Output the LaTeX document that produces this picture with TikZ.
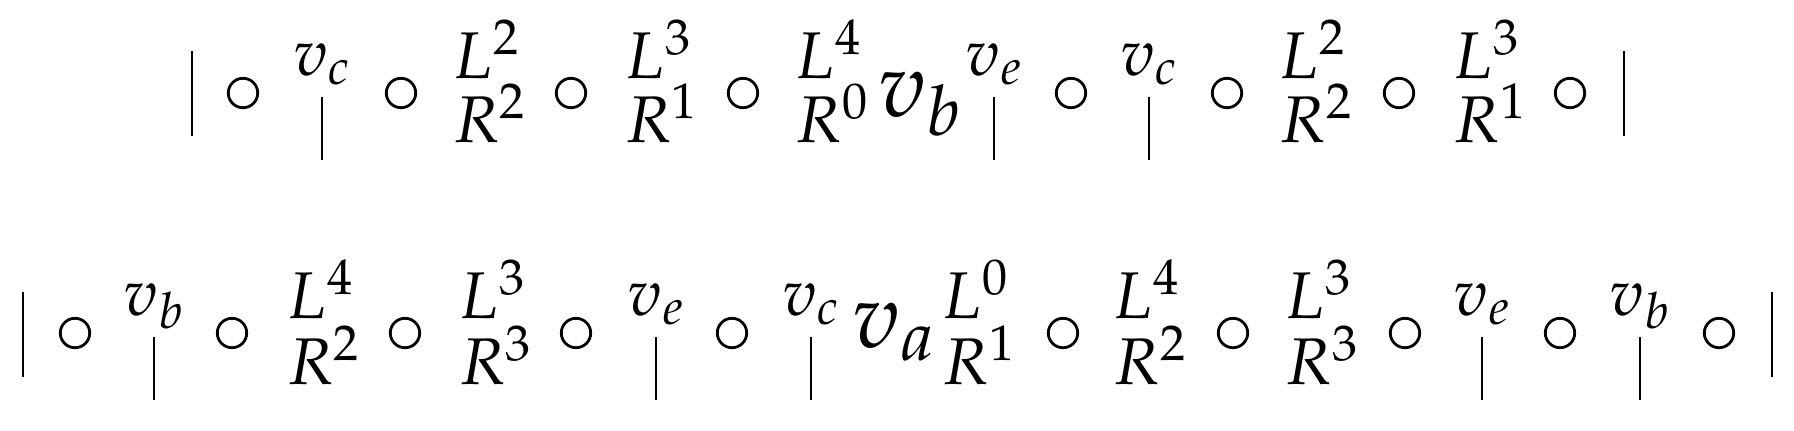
\documentclass[tikz,border=0pt]{standalone}
\usepackage{mathpazo}
\begin{document}
\begin{tikzpicture}[x=0.5pt,y=-0.5pt,
  txt/.style={inner sep=0pt,outer sep=0pt,font=\fontsize{33}{40}\selectfont},
  bigtxt/.style={inner sep=0pt,outer sep=0pt,font=\fontsize{46}{55}\selectfont},
  ring/.style={circle,draw,line width=1.4pt,minimum size=14.7pt,inner sep=0pt},
  barline/.style={line width=1.4pt}]
\useasboundingbox (0,0) rectangle (1794,430);
% ---------- row 1 ----------
\draw[barline] (192,51) coordinate (b1a) -- (192,136) coordinate (b1b);
\draw[barline] (1624,51) coordinate (b2a) -- (1624,136) coordinate (b2b);
\foreach \x [count=\i] in {243,401,571,743,1071,1227,1399,1570}
  \node[ring] (ra\i) at (\x,93) {};
\foreach \x/\a/\b [count=\i] in {453/2/2,625/3/1,795/4/0,1279/2/2,1453/3/1}{
  \node[txt,anchor=base west] (la\i) at (\x,78) {$L^{\a}$};
  \node[txt,anchor=base west] (ma\i) at (\x,142) {$R^{\b}$};
}
\foreach \x/\s [count=\i] in {322/c,994/e,1149/c}{
  \node[txt,anchor=base] (va\i) at (\x,75) {$v_{\s}$};
  \draw[barline] (\x,97) coordinate (sa\i) -- (\x,160) coordinate (ta\i);
}
\node[bigtxt,anchor=base west] (vb) at (878,116) {$v_b$};
% ---------- row 2 ----------
\draw[barline] (23,292) coordinate (b3a) -- (23,377) coordinate (b3b);
\draw[barline] (1772,292) coordinate (b4a) -- (1772,377) coordinate (b4b);
\foreach \x [count=\i] in {75,232,405,576,732,1063,1233,1405,1560,1719}
  \node[ring] (rb\i) at (\x,333) {};
\foreach \x/\a/\b [count=\i] in {287/4/2,459/3/3,942/0/1,1113/4/2,1285/3/3}{
  \node[txt,anchor=base west] (lb\i) at (\x,318) {$L^{\a}$};
  \node[txt,anchor=base west] (mb\i) at (\x,384) {$R^{\b}$};
}
\foreach \x/\s [count=\i] in {154/b,656/e,811/c,1482/e,1640/b}{
  \node[txt,anchor=base] (vc\i) at (\x,315) {$v_{\s}$};
  \draw[barline] (\x,337) coordinate (sb\i) -- (\x,400) coordinate (tb\i);
}
\node[bigtxt,anchor=base west] (va) at (852,347) {$v_a$};
\end{tikzpicture}
\end{document}
